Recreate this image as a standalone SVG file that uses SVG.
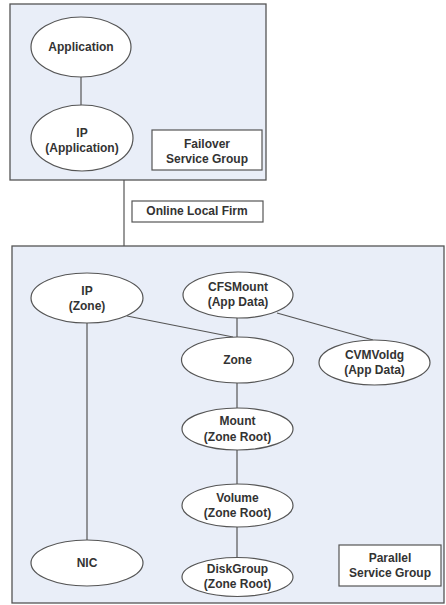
<svg xmlns="http://www.w3.org/2000/svg" width="446" height="605" viewBox="0 0 446 605">
  <style>
    .group { fill: #e9eef8; stroke: #555; stroke-width: 1.3; }
    .label-box { fill: #ffffff; stroke: #555; stroke-width: 1.2; }
    .node ellipse { fill: #ffffff; stroke: #555; stroke-width: 1.2; }
    .link { stroke: #555; stroke-width: 1.2; fill: none; }
    text { font-family: "Liberation Sans", Arial, sans-serif; font-weight: bold; font-size: 12px; fill: #333; text-anchor: middle; }
  </style>

  <rect width="446" height="605" fill="#ffffff"/>

  <!-- Service group containers -->
  <g id="failover-group">
    <rect class="group" x="10" y="4" width="256" height="176"/>
    <rect class="label-box" x="152" y="130" width="110" height="40"/>
    <text x="207" y="148">Failover</text>
    <text x="207" y="163">Service Group</text>
  </g>

  <g id="parallel-group">
    <rect class="group" x="12" y="246" width="432" height="357"/>
    <rect class="label-box" x="339" y="545" width="102" height="41"/>
    <text x="390" y="562">Parallel</text>
    <text x="390" y="577">Service Group</text>
  </g>

  <!-- Connectors -->
  <g id="connectors">
    <line class="link" x1="124" y1="180" x2="124" y2="246"/>
    <line class="link" x1="81" y1="77" x2="81" y2="105"/>
    <line class="link" x1="87" y1="323" x2="87" y2="540"/>
    <line class="link" x1="127" y1="316" x2="233" y2="337"/>
    <line class="link" x1="237" y1="317" x2="237" y2="337"/>
    <line class="link" x1="277" y1="313" x2="373" y2="340"/>
    <line class="link" x1="237" y1="383" x2="237" y2="408"/>
    <line class="link" x1="237" y1="450" x2="237" y2="484"/>
    <line class="link" x1="237" y1="527" x2="237" y2="558"/>
  </g>

  <g id="dependency-label">
    <rect class="label-box" x="132" y="201" width="131" height="21"/>
    <text x="197" y="215">Online Local Firm</text>
  </g>

  <!-- Resources -->
  <g id="application" class="node">
    <ellipse cx="81" cy="47" rx="50" ry="30"/>
    <text x="81" y="51">Application</text>
  </g>
  <g id="ip-application" class="node">
    <ellipse cx="82" cy="138" rx="51" ry="33"/>
    <text x="82" y="137">IP</text>
    <text x="82" y="152">(Application)</text>
  </g>

  <g id="ip-zone" class="node">
    <ellipse cx="87" cy="298" rx="56" ry="25"/>
    <text x="87" y="295">IP</text>
    <text x="87" y="310">(Zone)</text>
  </g>
  <g id="cfsmount" class="node">
    <ellipse cx="238" cy="295" rx="55" ry="23"/>
    <text x="238" y="291">CFSMount</text>
    <text x="238" y="306">(App Data)</text>
  </g>
  <g id="zone" class="node">
    <ellipse cx="237.5" cy="360" rx="56" ry="23"/>
    <text x="237.5" y="364">Zone</text>
  </g>
  <g id="cvmvoldg" class="node">
    <ellipse cx="374.5" cy="362.5" rx="55.5" ry="22.5"/>
    <text x="374.5" y="359">CVMVoldg</text>
    <text x="374.5" y="374">(App Data)</text>
  </g>
  <g id="mount" class="node">
    <ellipse cx="237.5" cy="429" rx="55.5" ry="21"/>
    <text x="237.5" y="425">Mount</text>
    <text x="237.5" y="441">(Zone Root)</text>
  </g>
  <g id="volume" class="node">
    <ellipse cx="237.5" cy="505.5" rx="55.5" ry="21.5"/>
    <text x="237.5" y="502">Volume</text>
    <text x="237.5" y="517">(Zone Root)</text>
  </g>
  <g id="nic" class="node">
    <ellipse cx="87" cy="563" rx="56" ry="23"/>
    <text x="87" y="567">NIC</text>
  </g>
  <g id="diskgroup" class="node">
    <ellipse cx="237.5" cy="577" rx="55.5" ry="19.5"/>
    <text x="237.5" y="573">DiskGroup</text>
    <text x="237.5" y="588">(Zone Root)</text>
  </g>
</svg>
